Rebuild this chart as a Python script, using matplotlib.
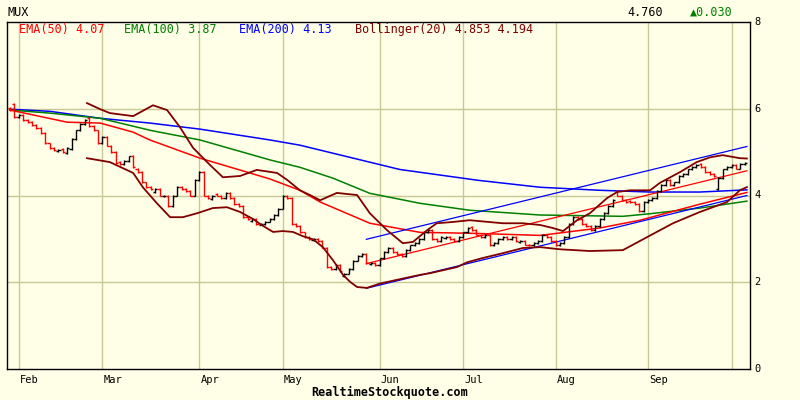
import matplotlib
matplotlib.use("Agg")
import matplotlib.pyplot as plt
import matplotlib.transforms as mtransforms

# ---------------- data ----------------
symbol = "MUX"
last_price = "4.760"
change = "\u25B20.030"

month_labels = ["Feb", "Mar", "Apr", "May", "Jun", "Jul", "Aug", "Sep", ""]
month_start_day = [2, 21, 43, 62, 84, 103, 124, 145, 164]

closes = [
    5.97, 5.80, 5.85, 5.74, 5.69, 5.62, 5.55, 5.44, 5.20, 5.10,
    5.05, 5.05, 5.00, 5.10, 5.30, 5.50, 5.65, 5.75, 5.60, 5.50,
    5.20, 5.35, 5.15, 5.00, 4.75, 4.72, 4.80, 4.90, 4.65, 4.55,
    4.30, 4.20, 4.15, 4.15, 4.00, 4.00, 3.75, 4.00, 4.20, 4.15,
    4.10, 4.00, 4.35, 4.55, 4.00, 3.95, 4.00, 4.00, 3.95, 4.05,
    3.95, 3.80, 3.75, 3.50, 3.45, 3.45, 3.35, 3.35, 3.40, 3.45,
    3.55, 3.70, 4.00, 3.95, 3.35, 3.30, 3.15, 3.05, 3.00, 3.00,
    2.95, 2.80, 2.35, 2.30, 2.40, 2.25, 2.20, 2.30, 2.50, 2.60,
    2.65, 2.45, 2.45, 2.40, 2.55, 2.70, 2.80, 2.70, 2.65, 2.60,
    2.75, 2.85, 2.90, 3.00, 3.15, 3.20, 3.00, 2.95, 3.05, 3.05,
    3.00, 2.95, 3.05, 3.15, 3.25, 3.20, 3.10, 3.05, 3.10, 2.85,
    2.90, 3.00, 3.05, 3.00, 3.05, 2.95, 2.95, 2.87, 2.85, 2.90,
    2.95, 3.10, 3.05, 2.95, 2.85, 2.90, 3.05, 3.35, 3.50, 3.45,
    3.35, 3.30, 3.20, 3.30, 3.45, 3.60, 3.75, 3.90, 4.00, 3.90,
    3.85, 3.85, 3.80, 3.65, 3.85, 3.90, 3.95, 4.10, 4.25, 4.35,
    4.25, 4.30, 4.45, 4.50, 4.60, 4.65, 4.70, 4.65, 4.55, 4.50,
    4.45, 4.40, 4.60, 4.65, 4.70, 4.62, 4.73, 4.76,
]

opens = [
    6.02, 6.12, 5.80, 5.85, 5.74, 5.69, 5.62, 5.55, 5.44, 5.20,
    5.10, 5.02, 5.08, 4.98, 5.08, 5.30, 5.50, 5.65, 5.78, 5.60,
    5.50, 5.20, 5.35, 5.15, 5.00, 4.78, 4.72, 4.80, 4.92, 4.62,
    4.55, 4.30, 4.20, 4.08, 4.15, 3.98, 4.00, 3.75, 4.00, 4.20,
    4.15, 4.10, 4.00, 4.35, 4.55, 4.00, 3.92, 4.03, 4.00, 3.95,
    4.05, 3.95, 3.80, 3.75, 3.50, 3.42, 3.45, 3.33, 3.35, 3.40,
    3.45, 3.55, 3.70, 4.00, 3.95, 3.35, 3.30, 3.15, 3.05, 2.98,
    3.00, 2.95, 2.80, 2.35, 2.30, 2.40, 2.15, 2.20, 2.30, 2.50,
    2.60, 2.65, 2.42, 2.45, 2.40, 2.55, 2.70, 2.80, 2.70, 2.65,
    2.60, 2.75, 2.85, 2.90, 3.00, 3.15, 3.20, 3.00, 2.95, 3.02,
    3.05, 3.00, 2.95, 3.05, 3.15, 3.28, 3.20, 3.10, 3.05, 3.10,
    2.85, 2.90, 3.00, 3.05, 3.00, 3.05, 2.93, 2.95, 2.87, 2.85,
    2.90, 2.95, 3.10, 3.05, 2.95, 2.85, 2.90, 3.05, 3.35, 3.50,
    3.45, 3.35, 3.30, 3.20, 3.30, 3.45, 3.60, 3.75, 4.10, 4.00,
    3.90, 3.88, 3.85, 3.80, 3.65, 3.85, 3.90, 3.95, 4.10, 4.25,
    4.35, 4.25, 4.30, 4.45, 4.50, 4.60, 4.65, 4.72, 4.65, 4.55,
    4.50, 4.15, 4.40, 4.60, 4.65, 4.70, 4.62, 4.73,
]

ema50_days = [0, 13, 20.5, 28, 31.8, 43.2, 54.5, 59.1, 65.9, 70.5, 81.8, 93.2, 104.5, 120.5, 134, 143.2, 156.8, 167.5]
ema50_vals = [5.97, 5.69, 5.67, 5.46, 5.28, 4.86, 4.52, 4.38, 4.12, 3.85, 3.36, 3.15, 3.13, 3.08, 3.25, 3.43, 3.80, 4.07]

ema100_days = [0, 9, 20.5, 32, 43.2, 59.1, 65.9, 73.4, 81.8, 93.2, 104.5, 120.5, 139.3, 145.5, 156.8, 167.5]
ema100_vals = [5.97, 5.90, 5.78, 5.50, 5.28, 4.82, 4.65, 4.40, 4.05, 3.82, 3.66, 3.55, 3.52, 3.58, 3.71, 3.87]

ema200_days = [0, 9.1, 20.5, 31.8, 43.2, 59.1, 65.9, 88.6, 106.4, 120.5, 134.1, 145.5, 156.8, 167.5]
ema200_vals = [5.99, 5.94, 5.78, 5.67, 5.53, 5.28, 5.16, 4.60, 4.35, 4.19, 4.12, 4.08, 4.08, 4.13]

boll_up_days = [17.5, 20.5, 22.7, 28, 32.5, 35.7, 38.6, 41.6, 45.5, 48.4, 52.3, 56.1, 60.7, 63, 65.9,
                68.2, 70.5, 74.3, 78.9, 81.8, 85.7, 89.3, 91.6, 94.8, 97, 100.7, 104.5, 112, 116.6,
                120.5, 123.4, 125.7, 128.9, 131.8, 135.7, 138, 140.9, 145.5, 147.7, 152.3, 156.1,
                159.1, 162, 165.9, 167.5]
boll_up_vals = [6.13, 5.99, 5.90, 5.83, 6.08, 5.97, 5.58, 5.10, 4.70, 4.42, 4.45, 4.59, 4.52, 4.36, 4.12,
                4.01, 3.89, 4.06, 4.01, 3.59, 3.20, 2.90, 2.93, 3.20, 3.36, 3.39, 3.43, 3.36, 3.36,
                3.32, 3.25, 3.18, 3.43, 3.59, 3.94, 4.08, 4.12, 4.12, 4.29, 4.54, 4.77,
                4.88, 4.93, 4.86, 4.853]

boll_lo_days = [17.5, 22.7, 28, 30.2, 33.4, 36.4, 39.3, 42.5, 46.1, 49.3, 52.3, 55.2, 57.5, 59.8, 62,
                64.3, 66.6, 68.9, 71.1, 73.4, 75.7, 77.3, 78.9, 81.1, 84.1, 88.6, 93.2, 95.5, 101.6,
                103.9, 107.5, 112, 116.6, 120.5, 125, 131.8, 139.3, 144.8, 150.7, 156.8, 163, 165.9,
                167.5]
boll_lo_vals = [4.86, 4.77, 4.52, 4.19, 3.82, 3.50, 3.50, 3.59, 3.71, 3.73, 3.62, 3.46, 3.30, 3.16, 3.18,
                3.16, 3.06, 2.99, 2.81, 2.51, 2.17, 2.01, 1.89, 1.87, 1.97, 2.07, 2.17, 2.21, 2.35,
                2.46, 2.56, 2.67, 2.79, 2.81, 2.76, 2.72, 2.74, 3.04, 3.36, 3.62, 3.85, 4.12,
                4.194]

trend_days = [81, 167.5]
trend_upper = [2.99, 5.13]
trend_mid = [2.43, 4.57]
trend_lower = [1.86, 4.00]

legend_items = [("EMA(50) 4.07", "#ff0000"), ("EMA(100) 3.87", "#008000"),
                ("EMA(200) 4.13", "#0000ff"), ("Bollinger(20) 4.853 4.194", "#800000")]
y_ticks = [0, 2, 4, 6, 8]

# ---------------- drawing ----------------
BG = "#ffffe8"
GRID = "#c8c896"
MONO = "DejaVu Sans Mono"

fig = plt.figure(figsize=(8, 4), dpi=100, facecolor=BG)
ax = fig.add_axes([7 / 800, 1 - 369 / 400, (750 - 7) / 800, (369 - 22) / 400])
ax.set_facecolor(BG)
ax.set_xlim(-0.68, 168.2)
ax.set_ylim(0, 8)
for s in ax.spines.values():
    s.set_color("black")
    s.set_linewidth(1.0)
ax.set_xticks([])
ax.set_yticks([])

# grid
for d in month_start_day:
    ax.axvline(d, color=GRID, lw=1.0, zorder=0)
for v in y_ticks[1:-1]:
    ax.axhline(v, color=GRID, lw=1.0, zorder=0)

# indicator lines
ax.plot(ema200_days, ema200_vals, color="#0000ff", lw=1.1, zorder=2)
ax.plot(ema100_days, ema100_vals, color="#008000", lw=1.1, zorder=2)
ax.plot(ema50_days, ema50_vals, color="#ff0000", lw=1.1, zorder=2)
ax.plot(trend_days, trend_upper, color="#0000ff", lw=0.9, zorder=2)
ax.plot(trend_days, trend_lower, color="#0000ff", lw=0.9, zorder=2)
ax.plot(trend_days, trend_mid, color="#ff0000", lw=0.9, zorder=2)

# OHLC bars
tick = 0.5
for i, (o, c) in enumerate(zip(opens, closes)):
    col = "black" if c >= o else "#ff0000"
    lo, hi = min(o, c), max(o, c)
    ax.vlines(i, lo - 0.02, hi + 0.02, color=col, lw=1.0, zorder=3)
    ax.hlines(o, i - tick, i, color=col, lw=1.0, zorder=3)
    ax.hlines(c, i, i + tick, color=col, lw=1.0, zorder=3)

# Bollinger bands
ax.plot(boll_up_days, boll_up_vals, color="#800000", lw=1.3, zorder=4)
ax.plot(boll_lo_days, boll_lo_vals, color="#800000", lw=1.3, zorder=4)

# legend text inside the plot
lx = [19, 124, 239, 355]
for (txt, col), x in zip(legend_items, lx):
    fig.text(x / 800, 1 - 30 / 400, txt, color=col, fontsize=8.5, family=MONO,
             va="center", ha="left")

# right y labels
trans_y = mtransforms.blended_transform_factory(fig.transFigure, ax.transData)
for v in y_ticks:
    fig.text(754 / 800, v, str(v), transform=trans_y, fontsize=7.5, family=MONO,
             va="center", ha="left", color="black")

# month labels
trans_x = mtransforms.blended_transform_factory(ax.transData, fig.transFigure)
for d, lab in zip(month_start_day, month_labels):
    if lab:
        ax.text(d + 0.3, 1 - 380 / 400, lab, transform=trans_x, fontsize=7.5,
                family=MONO, va="center", ha="left", color="black")

# header
fig.text(8 / 800, 1 - 12 / 400, symbol, fontsize=8.5, family=MONO, va="center", ha="left")
fig.text(627 / 800, 1 - 12 / 400, last_price, fontsize=8.5, family=MONO, va="center", ha="left")
fig.text(690 / 800, 1 - 12 / 400, change, fontsize=8.5, family=MONO, va="center", ha="left",
         color="#008000")

# footer
fig.text(390 / 800, 1 - 392 / 400, "RealtimeStockquote.com", fontsize=8.5, family=MONO,
         weight="bold", va="center", ha="center")

fig.savefig("out.png", dpi=100, facecolor=BG)
